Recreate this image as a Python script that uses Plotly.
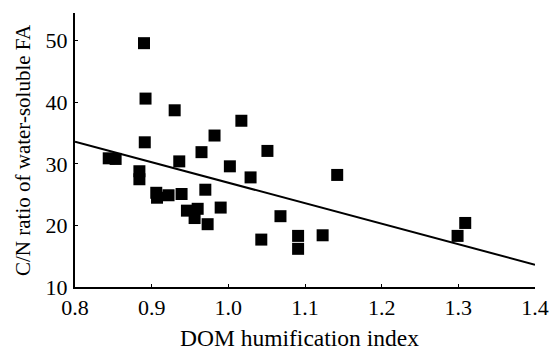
import plotly.graph_objects as go

# DOM humification index (x) and C/N ratio of water-soluble FA (y)
hix = [0.844, 0.853, 0.884, 0.884, 0.890, 0.892, 0.891, 0.906, 0.907, 0.922,
       0.930, 0.936, 0.939, 0.946, 0.956, 0.960, 0.965, 0.970, 0.973, 0.982,
       0.990, 1.002, 1.017, 1.029, 1.043, 1.051, 1.068, 1.091, 1.091, 1.123,
       1.142, 1.299, 1.309]
cn = [30.9, 30.8, 28.8, 27.5, 49.6, 40.6, 33.5, 25.3, 24.5, 24.9,
      38.7, 30.4, 25.1, 22.4, 21.2, 22.7, 31.9, 25.8, 20.2, 34.6,
      22.9, 29.6, 37.0, 27.8, 17.7, 32.1, 21.5, 18.3, 16.2, 18.4,
      28.2, 18.3, 20.4]

# Regression line
fit_slope = -33.3
fit_intercept = 60.24
fit_x = [0.8, 1.4]
fit_y = [fit_intercept + fit_slope * v for v in fit_x]

x_ticks = [0.8, 0.9, 1.0, 1.1, 1.2, 1.3, 1.4]
x_ticklabels = ["0.8", "0.9", "1.0", "1.1", "1.2", "1.3", "1.4"]
y_ticks = [10, 20, 30, 40, 50]

x_title = "DOM humification index"
y_title = "C/N ratio of water-soluble FA"

fig = go.Figure()
fig.add_trace(go.Scatter(x=fit_x, y=fit_y, mode="lines",
                         line=dict(color="black", width=2), showlegend=False,
                         hoverinfo="skip"))
fig.add_trace(go.Scatter(x=hix, y=cn, mode="markers",
                         marker=dict(symbol="square", size=12, color="black",
                                     line=dict(width=0)),
                         showlegend=False))

font = "Liberation Serif, Times New Roman, serif"
fig.update_layout(
    width=552, height=350,
    margin=dict(l=75, r=17, t=13, b=63),
    paper_bgcolor="white", plot_bgcolor="white",
    font=dict(family=font, size=22, color="black"),
    xaxis=dict(range=[0.8, 1.4], tickvals=x_ticks, ticktext=x_ticklabels,
               ticks="inside", ticklen=3, tickcolor="black", tickwidth=1,
               showline=True, linecolor="black", linewidth=2,
               showgrid=False, zeroline=False, automargin=False,
               ticklabelstandoff=0),
    yaxis=dict(range=[10, 54.5], tickvals=y_ticks,
               ticks="inside", ticklen=3, tickcolor="black", tickwidth=1,
               showline=True, linecolor="black", linewidth=2,
               showgrid=False, zeroline=False, automargin=False,
               ticklabelstandoff=1),
    annotations=[
        dict(text=x_title, xref="paper", yref="paper", x=0.488, y=0,
             xanchor="center", yanchor="top", yshift=-36, showarrow=False,
             font=dict(size=23.5)),
        dict(text=y_title, xref="paper", yref="paper", x=0, y=0.5,
             xanchor="center", yanchor="middle", xshift=-52, textangle=-90,
             showarrow=False, font=dict(size=21)),
    ],
)

fig.write_html("out.html", config={"displayModeBar": False},
               post_script="document.body.style.margin='0';document.body.style.overflow='hidden';")
